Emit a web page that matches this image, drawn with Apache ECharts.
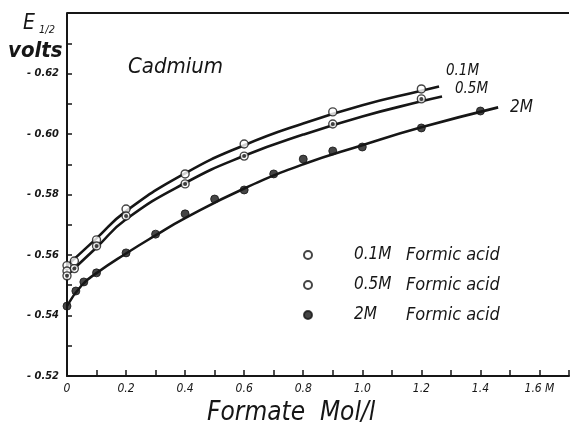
<!DOCTYPE html>
<html>
<head>
<meta charset="utf-8">
<script src="https://cdn.jsdelivr.net/npm/echarts@6/dist/echarts.min.js"></script>
<style>
  html, body { margin: 0; padding: 0; background: #fff; }
  #chart { width: 572px; height: 426px; }
</style>
</head>
<body>
<div id="chart"></div>
<script>
// Half-wave potential of cadmium vs. formate concentration, three formic acid levels.
// Measured points (x = formate, mol/l; y = E1/2, volts)
const pts01 = [[0, -0.5565], [0, -0.5547], [0.025, -0.5580], [0.1, -0.5650], [0.2, -0.5752], [0.4, -0.5868], [0.6, -0.5967], [0.9, -0.6073], [1.2, -0.6149]];
const pts05 = [[0, -0.5531], [0.025, -0.5555], [0.1, -0.5630], [0.2, -0.5729], [0.4, -0.5835], [0.6, -0.5927], [0.9, -0.6033], [1.2, -0.6116]];
const pts2 = [[0, -0.5431], [0.03, -0.5481], [0.057, -0.5511], [0.1, -0.5541], [0.2, -0.5607], [0.3, -0.5669], [0.4, -0.5736], [0.5, -0.5785], [0.6, -0.5815], [0.7, -0.5868], [0.8, -0.5917], [0.9, -0.5944], [1.0, -0.5957], [1.2, -0.6020], [1.4, -0.6076]];

// Hand-drawn fitted curves through each set
const curve01 = [[0, -0.5565], [0.1, -0.5655], [0.2, -0.5745], [0.4, -0.5870], [0.6, -0.5963], [0.8, -0.6035], [1.0, -0.6095], [1.2, -0.6143], [1.26, -0.6157]];
const curve05 = [[0, -0.5533], [0.1, -0.5625], [0.2, -0.5718], [0.4, -0.5838], [0.6, -0.5928], [0.8, -0.5998], [1.0, -0.6058], [1.2, -0.6108], [1.27, -0.6124]];
const curve2 = [[0, -0.5432], [0.05, -0.5500], [0.1, -0.5540], [0.2, -0.5605], [0.3, -0.5665], [0.4, -0.5722], [0.6, -0.5820], [0.8, -0.5900], [1.0, -0.5963], [1.2, -0.6022], [1.46, -0.6088]];

const seriesNames = ['0.1M', '0.5M', '2M'];
const legendSuffix = 'Formic acid';
const xTicks = [0, 0.2, 0.4, 0.6, 0.8, 1.0, 1.2, 1.4, 1.6];
const yTicks = [-0.52, -0.54, -0.56, -0.58, -0.60, -0.62];
const yTop = -0.64;   // upper frame of the plot
const xEnd = 1.7;     // axis runs on past the last labelled tick

const INK = '#161616';
const FONT = "'Liberation Sans Narrow', 'DejaVu Sans Condensed', 'Liberation Sans', sans-serif";

const chart = echarts.init(document.getElementById('chart'), null, { renderer: 'canvas' });

const markerStyles = [
  { color: '#fff', borderColor: INK, borderWidth: 1.4 },
  { color: '#fff', borderColor: INK, borderWidth: 1.4 },
  { color: INK, borderColor: INK, borderWidth: 1 }
];

function curveSeries(data) {
  return {
    type: 'line', data: data, smooth: 0.5, showSymbol: false, symbol: 'none',
    lineStyle: { color: INK, width: 2.6 }, silent: true, z: 2
  };
}
function pointSeries(name, data, style) {
  return {
    type: 'scatter', name: name, data: data, symbol: 'circle', symbolSize: 8,
    itemStyle: style, z: 3
  };
}
// dark centre dot for the half-filled 0.5M markers
const centreDots = {
  type: 'scatter', data: pts05, symbol: 'circle', symbolSize: 4, silent: true,
  itemStyle: { color: INK }, z: 4
};

const frameSeries = curveSeries(curve01);
frameSeries.markLine = {
  silent: true, symbol: 'none', label: { show: false },
  lineStyle: { color: INK, width: 2.2, type: 'solid' },
  data: [{ yAxis: yTop }]
};

function textTitle(text, left, top, size, extra) {
  return {
    text: text, left: left, top: top, padding: 0,
    textStyle: Object.assign({ color: INK, fontFamily: FONT, fontStyle: 'italic', fontWeight: 'normal', fontSize: size }, extra || {})
  };
}

const option = {
  backgroundColor: '#fff',
  animation: false,
  title: [
    textTitle('E', 23, 13, 21),
    textTitle('1/2', 39, 25, 11),
    textTitle('volts', 8, 40, 22, { fontWeight: 'bold' }),
    textTitle('Cadmium', 128, 56, 22),
    textTitle('0.1M', 446, 64, 15),
    textTitle('0.5M', 455, 82, 15),
    textTitle('2M', 510, 99, 17),
    textTitle('Formate  Mol/l', 207, 400, 26)
  ],
  grid: { left: 67, right: -3, top: 13, bottom: 50 },
  xAxis: {
    type: 'value', min: 0, max: xEnd, interval: 0.2,
    axisLine: { onZero: false, lineStyle: { color: INK, width: 2 } },
    axisTick: { inside: true, length: 6, lineStyle: { color: INK, width: 1.5 } },
    minorTick: { show: true, splitNumber: 2, length: 6, lineStyle: { color: INK, width: 1.5 } },
    splitLine: { show: false },
    axisLabel: {
      margin: 7, color: INK, fontFamily: FONT, fontStyle: 'italic', fontSize: 12,
      formatter: function (v) {
        if (!xTicks.some(t => Math.abs(t - v) < 1e-6)) return '';
        if (v === 0) return '0';
        const s = v.toFixed(1);
        return Math.abs(v - 1.6) < 1e-6 ? s + ' M' : s;
      }
    }
  },
  yAxis: {
    type: 'value', inverse: true, min: yTop, max: -0.52, interval: 0.02,
    axisLine: { show: true, onZero: false, lineStyle: { color: INK, width: 2 } },
    axisTick: { show: true, inside: true, length: 5, lineStyle: { color: INK, width: 1.5 } },
    minorTick: { show: true, splitNumber: 2, length: 5, lineStyle: { color: INK, width: 1.5 } },
    splitLine: { show: false },
    axisLabel: {
      margin: 8, color: INK, fontFamily: FONT, fontStyle: 'italic', fontWeight: 'bold', fontSize: 11,
      formatter: function (v) {
        if (!yTicks.some(t => Math.abs(t - v) < 1e-6)) return '';
        return '- ' + Math.abs(v).toFixed(2);
      }
    }
  },
  legend: {
    data: seriesNames, orient: 'vertical', left: 298, top: 241,
    itemWidth: 8, itemHeight: 8, itemGap: 12,
    textStyle: {
      color: INK, fontFamily: FONT, fontStyle: 'italic', fontSize: 17,
      rich: {
        a: { fontFamily: FONT, fontStyle: 'italic', fontSize: 17, color: INK, width: 52, padding: [0, 0, 0, 37] },
        b: { fontFamily: FONT, fontStyle: 'italic', fontSize: 18, color: INK }
      }
    },
    formatter: function (name) { return '{a|' + name + '}{b|' + legendSuffix + '}'; },
    selectedMode: false
  },
  series: [
    frameSeries, curveSeries(curve05), curveSeries(curve2),
    pointSeries(seriesNames[0], pts01, markerStyles[0]),
    pointSeries(seriesNames[1], pts05, markerStyles[1]),
    pointSeries(seriesNames[2], pts2, markerStyles[2]),
    centreDots
  ]
};

chart.setOption(option);
</script>
</body>
</html>
